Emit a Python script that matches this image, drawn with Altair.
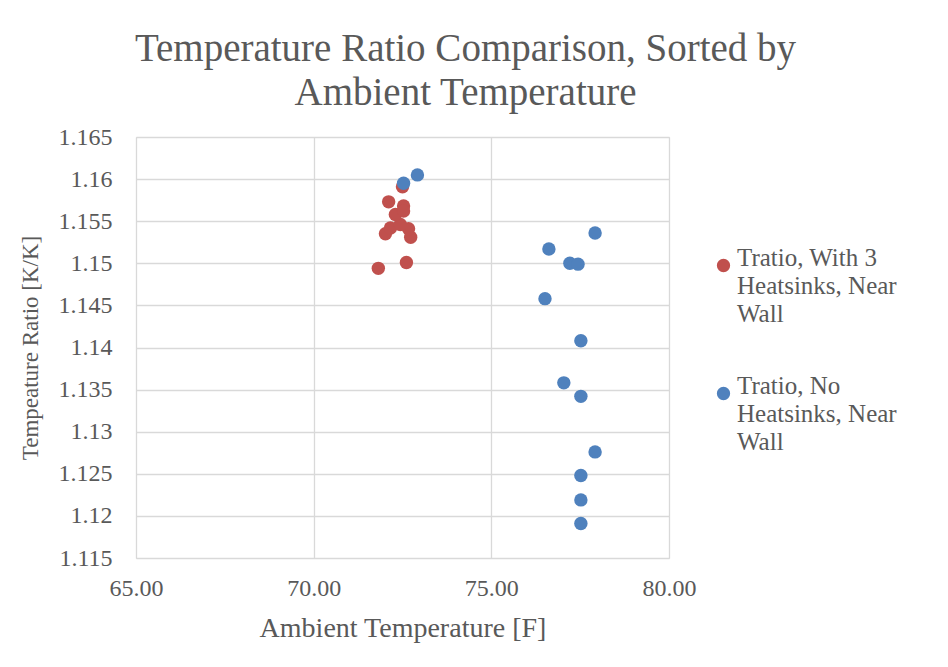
import altair as alt
import pandas as pd

# Ambient temperature [F] and temperature ratio [K/K] for each run
with_hs_temp = [71.82, 72.61, 72.02, 72.16, 72.73, 72.67, 72.44, 72.30, 72.11, 72.53, 72.53, 72.50]
with_hs_ratio = [1.1494, 1.1501, 1.1535, 1.1542, 1.1531, 1.1541, 1.1546, 1.1558, 1.1573, 1.1568, 1.1562, 1.1591]

no_hs_temp = [72.53, 72.92, 77.92, 76.62, 77.21, 77.44, 76.51, 77.52, 77.04, 77.52, 77.92, 77.52, 77.52, 77.52]
no_hs_ratio = [1.1595, 1.1605, 1.1536, 1.1517, 1.1500, 1.1499, 1.1458, 1.1408, 1.1358, 1.1342, 1.1276, 1.1248, 1.1219, 1.1191]

series_names = ["Tratio, With 3 Heatsinks, Near Wall", "Tratio, No Heatsinks, Near Wall"]
series_colors = ["#C0504D", "#4F81BD"]

x_ticks = [65, 70, 75, 80]
y_ticks = [1.115, 1.12, 1.125, 1.13, 1.135, 1.14, 1.145, 1.15, 1.155, 1.16, 1.165]

df = pd.concat([
    pd.DataFrame({"temp": with_hs_temp, "ratio": with_hs_ratio, "series": series_names[0]}),
    pd.DataFrame({"temp": no_hs_temp, "ratio": no_hs_ratio, "series": series_names[1]}),
], ignore_index=True)

FONT = "Liberation Serif"
GREY = "#595959"
GRID = "#D9D9D9"

# legend entries wrap onto three lines
legend_expr = (
    "datum.label == 'Tratio, With 3 Heatsinks, Near Wall' ? "
    "['Tratio, With 3', 'Heatsinks, Near', 'Wall'] : "
    "['Tratio, No', 'Heatsinks, Near', 'Wall']"
)

chart = alt.Chart(df).mark_circle(size=180, opacity=1).encode(
    x=alt.X("temp:Q", title="Ambient Temperature [F]",
            scale=alt.Scale(domain=[65, 80], nice=False, zero=False),
            axis=alt.Axis(values=x_ticks, format=".2f", labelPadding=18,
                          titlePadding=14, labelFlush=False,
                          labelFontSize=24, titleFontSize=28)),
    y=alt.Y("ratio:Q", title="Tempeature Ratio [K/K]",
            scale=alt.Scale(domain=[1.115, 1.165], nice=False, zero=False),
            axis=alt.Axis(values=y_ticks, format=".3~f", labelPadding=24,
                          titlePadding=16, labelFlush=False,
                          labelFontSize=24, titleFontSize=23)),
    color=alt.Color("series:N", title=None,
                    scale=alt.Scale(domain=series_names, range=series_colors),
                    legend=alt.Legend(orient="none", legendX=575, legendY=116,
                                      labelExpr=legend_expr, symbolType="circle",
                                      symbolSize=177, rowPadding=46,
                                      labelBaseline="alphabetic", labelOffset=1,
                                      symbolOffset=0)),
).properties(
    width=533,
    height=421,
    title=alt.TitleParams(
        ["Temperature Ratio Comparison, Sorted by", "Ambient Temperature"],
        anchor="middle", dx=63, offset=12, fontSize=39, font=FONT,
        fontWeight="normal", color=GREY, lineHeight=44),
    autosize=alt.AutoSizeParams(type="none"),
    padding={"left": 136, "top": 137, "right": 279, "bottom": 109},
    background="white",
).configure(
    style={"guide-label": {"lineHeight": 28}}
).configure_view(
    stroke=GRID, strokeWidth=1
).configure_axis(
    grid=True, gridColor=GRID, gridWidth=1.3, domain=False, ticks=False,
    labelFont=FONT, labelColor=GREY,
    titleFont=FONT, titleColor=GREY, titleFontWeight="normal",
).configure_legend(
    labelFont=FONT, labelFontSize=25, labelColor=GREY, labelLimit=300,
)

chart.save("out.html", embed_options={"renderer": "svg", "actions": False})
